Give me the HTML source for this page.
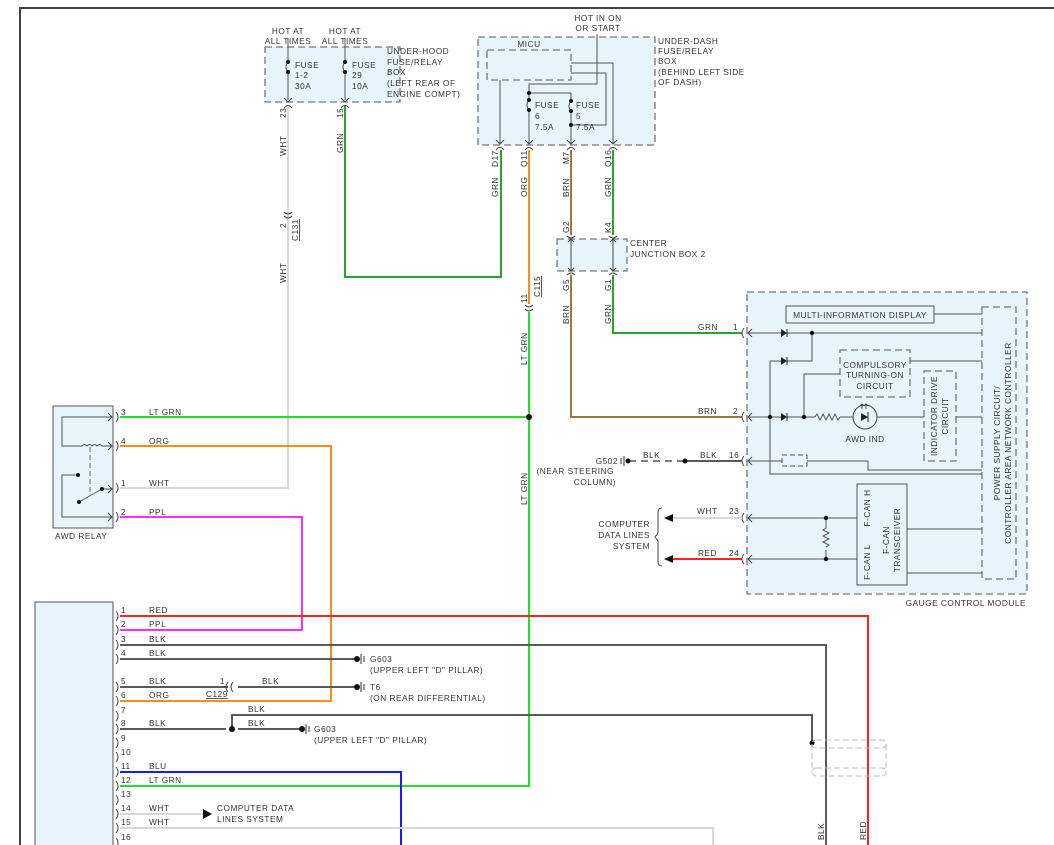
<!DOCTYPE html>
<html><head><meta charset="utf-8"><style>
html,body{margin:0;padding:0;background:#fff}
svg{display:block}
text{font-family:"Liberation Sans",sans-serif;font-size:8.3px;fill:#333;letter-spacing:0.5px}
.g{stroke:#2aa52a;stroke-width:2;fill:none}
.lg{stroke:#22e022;stroke-width:2;fill:none}
.o{stroke:#ff8c1a;stroke-width:2;fill:none}
.b{stroke:#9a7a3a;stroke-width:2;fill:none}
.w{stroke:#d8d8d8;stroke-width:2;fill:none}
.p{stroke:#ff2cff;stroke-width:2;fill:none}
.r{stroke:#ff2020;stroke-width:2;fill:none}
.u{stroke:#1a1aff;stroke-width:2;fill:none}
.k{stroke:#5a5a5a;stroke-width:2;fill:none}
.t{stroke:#555;stroke-width:1;fill:none}
.d{stroke:#777;stroke-width:1.3;stroke-dasharray:7,4;fill:#e8f4fb}
.c{stroke:#444;stroke-width:1;fill:none}
</style></head><body>
<svg width="1054" height="845" viewBox="0 0 1054 845" xmlns="http://www.w3.org/2000/svg">
<!-- border -->
<path d="M20,845 V8 H1054" stroke="#444" stroke-width="2" fill="none"/>

<!-- under-hood box -->
<rect x="265" y="47" width="135" height="55" class="d"/>
<text x="288" y="34" text-anchor="middle">HOT AT</text><text x="288" y="44" text-anchor="middle">ALL TIMES</text>
<text x="345" y="34" text-anchor="middle">HOT AT</text><text x="345" y="44" text-anchor="middle">ALL TIMES</text>
<path d="M288,38 V62 M288,72 V100 M345,38 V62 M345,72 V100" class="t"/>
<path d="M288,62 q-4,5 0,10 M345,62 q-4,5 0,10" class="t"/>
<circle cx="288" cy="62" r="2" fill="#111"/><circle cx="288" cy="72" r="2" fill="#111"/>
<circle cx="345" cy="62" r="2" fill="#111"/><circle cx="345" cy="72" r="2" fill="#111"/>
<text x="295" y="68">FUSE</text><text x="295" y="78">1-2</text><text x="295" y="89">30A</text>
<text x="352" y="68">FUSE</text><text x="352" y="78">29</text><text x="352" y="89">10A</text>
<text x="387" y="54">UNDER-HOOD</text><text x="387" y="65">FUSE/RELAY</text><text x="387" y="75">BOX</text><text x="387" y="86">(LEFT REAR OF</text><text x="387" y="97">ENGINE COMPT)</text>
<path d="M284,98 l4,4 l4,-4 M341,98 l4,4 l4,-4 M284,108 q4,-5 8,0 M341,108 q4,-5 8,0" class="c"/>

<!-- WHT wire -->
<path d="M288,106 V488 H120" class="w"/>
<text transform="translate(286,118) rotate(-90)">23</text>
<text transform="translate(286,156) rotate(-90)">WHT</text>
<path d="M284,212 q4,4 8,0 M284,216 q4,4 8,0" class="c"/>
<text transform="translate(286,228) rotate(-90)">2</text>
<text transform="translate(298,241) rotate(-90)" text-decoration="underline">C131</text>
<text transform="translate(286,283) rotate(-90)">WHT</text>
<!-- GRN wire from fuse 29 -->
<path d="M345,106 V277 H501 V150" class="g"/>
<text transform="translate(343,118) rotate(-90)">15</text>
<text transform="translate(343,153) rotate(-90)">GRN</text>

<!-- MICU box -->
<rect x="478" y="37" width="177" height="108" class="d"/>
<rect x="487" y="50" width="84" height="30" class="d"/>
<text x="529" y="47" text-anchor="middle">MICU</text>
<text x="598" y="21" text-anchor="middle">HOT IN ON</text><text x="598" y="31" text-anchor="middle">OR START</text>
<path d="M597,34 V84 H529 V100 M529,110 V144 M529,93 H571 V101 M571,111 V144 M571,125 H606 V73 H571 M571,63 H613 V144 M500,80 V144" class="t"/>
<path d="M529,100 q-4,5 0,10 M571,101 q-4,5 0,10" class="t"/>
<circle cx="529" cy="93" r="2" fill="#111"/><circle cx="529" cy="100" r="2" fill="#111"/><circle cx="529" cy="110" r="2" fill="#111"/>
<circle cx="571" cy="101" r="2" fill="#111"/><circle cx="571" cy="111" r="2" fill="#111"/><circle cx="571" cy="125" r="2" fill="#111"/>
<text x="535" y="108">FUSE</text><text x="535" y="119">6</text><text x="535" y="130">7.5A</text>
<text x="576" y="108">FUSE</text><text x="576" y="119">5</text><text x="576" y="130">7.5A</text>
<text x="658" y="44">UNDER-DASH</text><text x="658" y="54">FUSE/RELAY</text><text x="658" y="64">BOX</text><text x="658" y="75">(BEHIND LEFT SIDE</text><text x="658" y="85">OF DASH)</text>
<path d="M496,140 l4,4 l4,-4 M525,140 l4,4 l4,-4 M567,140 l4,4 l4,-4 M609,140 l4,4 l4,-4 M496,150 q4,-5 8,0 M525,150 q4,-5 8,0 M567,150 q4,-5 8,0 M609,150 q4,-5 8,0" class="c"/>
<text transform="translate(498,167) rotate(-90)">D17</text><text transform="translate(498,197) rotate(-90)">GRN</text>
<text transform="translate(527,167) rotate(-90)">Q11</text><text transform="translate(527,197) rotate(-90)">ORG</text>
<text transform="translate(569,164) rotate(-90)">M7</text><text transform="translate(569,197) rotate(-90)">BRN</text>
<text transform="translate(611,167) rotate(-90)">Q16</text><text transform="translate(611,197) rotate(-90)">GRN</text>

<!-- ORG / LT GRN -->
<path d="M529,150 V304" class="o"/>
<path d="M525,305 q4,4 8,0 M525,309 q4,4 8,0" class="c"/>
<text transform="translate(527,303) rotate(-90)">11</text>
<text transform="translate(540,297) rotate(-90)" text-decoration="underline">C115</text>
<path d="M529,312 V786 H120" class="lg"/>
<text transform="translate(527,365) rotate(-90)">LT GRN</text>
<text transform="translate(527,505) rotate(-90)">LT GRN</text>
<path d="M120,417 H529" class="lg"/>
<circle cx="529" cy="417" r="3" fill="#111"/>

<!-- center junction box -->
<rect x="557" y="239" width="70" height="32" class="d"/>
<path d="M571,150 V235 M571,275 V417 H742" class="b"/>
<path d="M613,150 V235 M613,275 V333 H742" class="g"/>
<path d="M571,239 V271 M613,239 V271 M568,242 l3,-3 l3,3 M568,268 l3,3 l3,-3 M610,242 l3,-3 l3,3 M610,268 l3,3 l3,-3" class="c"/>
<path d="M567,236 q4,4 8,0 M609,236 q4,4 8,0 M567,275 q4,-4 8,0 M609,275 q4,-4 8,0" class="c"/>
<text transform="translate(569,233) rotate(-90)">G2</text><text transform="translate(611,233) rotate(-90)">K4</text>
<text transform="translate(569,291) rotate(-90)">G5</text><text transform="translate(611,291) rotate(-90)">G1</text>
<text transform="translate(569,324) rotate(-90)">BRN</text><text transform="translate(611,324) rotate(-90)">GRN</text>
<text x="630" y="246">CENTER</text><text x="630" y="257">JUNCTION BOX 2</text>
<text x="698" y="330">GRN</text><text x="733" y="330">1</text>
<text x="698" y="414">BRN</text><text x="733" y="414">2</text>

<!-- gauge control module -->
<rect x="747" y="292" width="280" height="302" class="d"/>
<text x="1026" y="606" text-anchor="end">GAUGE CONTROL MODULE</text>
<rect x="786" y="306" width="148" height="17" fill="#e8f4fb" stroke="#555"/>
<text x="860" y="318" text-anchor="middle">MULTI-INFORMATION DISPLAY</text>
<rect x="982" y="307" width="34" height="272" class="d"/>
<text transform="translate(1000,443) rotate(-90)" text-anchor="middle">POWER SUPPLY CIRCUIT/</text>
<text transform="translate(1011,443) rotate(-90)" text-anchor="middle">CONTROLLER AREA NETWORK CONTROLLER</text>
<rect x="840" y="350" width="70" height="47" class="d"/>
<text x="875" y="368" text-anchor="middle">COMPULSORY</text><text x="875" y="378" text-anchor="middle">TURNING-ON</text><text x="875" y="389" text-anchor="middle">CIRCUIT</text>
<rect x="924" y="371" width="32" height="90" class="d"/>
<text transform="translate(937,416) rotate(-90)" text-anchor="middle">INDICATOR DRIVE</text>
<text transform="translate(948,416) rotate(-90)" text-anchor="middle">CIRCUIT</text>
<path d="M748,333 H982 M812,333 V361 H770 V474 H982 M934,314 H982 M910,361 H982 M804,417 V374 H840 M748,417 H815 M840,417 H853 M877,417 H924 M956,417 H982 M748,461 H782 M807,461 H868 V470 H982 M748,518 H857 M748,559 H857 M907,529 H982 M907,573 H982 M826,518 V528 M826,550 V559" class="t"/>
<path d="M815,417 l2,-3 l3,6 l3,-6 l3,6 l3,-6 l3,6 l3,-6 l3,6 l2,-3 M826,528 l-3,2 l6,3 l-6,3 l6,3 l-6,3 l6,3 l-3,2" class="t"/>
<path d="M781,329 l6,4 l-6,4z M781,357 l6,4 l-6,4z M781,413 l6,4 l-6,4z M861,413 l7,4 l-7,4z" fill="#222"/>
<path d="M787,329 v8 M787,357 v8 M787,413 v8 M868,412 v10" stroke="#222"/>
<path d="M862,404 v5 M866,404 v5 M860,406 l2,-2 l2,2 M864,406 l2,-2 l2,2" stroke="#222" stroke-width="0.8" fill="none"/>
<circle cx="865" cy="417" r="12" fill="none" stroke="#444"/>
<text x="865" y="442" text-anchor="middle">AWD IND</text>
<rect x="782" y="455" width="25" height="11" fill="none" stroke="#555" stroke-dasharray="5,3"/>
<circle cx="812" cy="333" r="2.2" fill="#111"/><circle cx="770" cy="417" r="2.2" fill="#111"/><circle cx="804" cy="417" r="2.2" fill="#111"/>
<circle cx="826" cy="518" r="2.2" fill="#111"/><circle cx="826" cy="559" r="2.2" fill="#111"/>
<rect x="857" y="484" width="50" height="101" fill="#e8f4fb" stroke="#555"/>
<text transform="translate(870,508) rotate(-90)" text-anchor="middle">F-CAN H</text>
<text transform="translate(870,562) rotate(-90)" text-anchor="middle">F-CAN L</text>
<text transform="translate(889,540) rotate(-90)" text-anchor="middle">F-CAN</text>
<text transform="translate(900,540) rotate(-90)" text-anchor="middle">TRANSCEIVER</text>
<!-- module pin connectors -->
<path d="M744,328 q-4,5 0,10 M744,412 q-4,5 0,10 M744,456 q-4,5 0,10 M744,513 q-4,5 0,10 M744,554 q-4,5 0,10 M752,329 l-4,4 l4,4 M752,413 l-4,4 l4,4 M752,457 l-4,4 l4,4 M752,514 l-4,4 l4,4 M752,555 l-4,4 l4,4" class="c"/>

<!-- G502 -->
<path d="M629,461 H685" stroke="#555" stroke-width="1.5" stroke-dasharray="7,5"/>
<path d="M685,461 H742" class="k" stroke-width="1.5"/>
<circle cx="685" cy="461" r="2.5" fill="#111"/><circle cx="628" cy="461" r="2.5" fill="#111"/>
<path d="M624,456 v10 M621,458 v6" stroke="#333"/>
<text x="643" y="458">BLK</text><text x="700" y="458">BLK</text><text x="729" y="458">16</text>
<text x="618" y="464" text-anchor="end">G502</text>
<text x="614" y="474" text-anchor="end">(NEAR STEERING</text>
<text x="616" y="485" text-anchor="end">COLUMN)</text>
<!-- computer data lines -->
<path d="M742,518 H672" class="w"/>
<path d="M742,559 H672" class="r"/>
<path d="M664,518 l9,-4 v8z M664,559 l9,-4 v8z" fill="#111"/>
<text x="697" y="514">WHT</text><text x="729" y="514">23</text>
<text x="698" y="556">RED</text><text x="729" y="556">24</text>
<path d="M662,508 q-4,0 -4,5 v20 l-3,4 l3,4 v20 q0,5 4,5" class="c"/>
<text x="650" y="527" text-anchor="end">COMPUTER</text><text x="650" y="538" text-anchor="end">DATA LINES</text><text x="650" y="549" text-anchor="end">SYSTEM</text>

<!-- AWD relay -->
<rect x="53" y="406" width="60" height="122" fill="#e8f4fb" stroke="#555"/>
<text x="55" y="539">AWD RELAY</text>
<path d="M112,417 H62 V446 H82 M102,446 H112 M112,489 H102 M112,517 H62 V475 H78" class="t"/>
<path d="M82,446 q2.5,-3 5,0 q2.5,-3 5,0 q2.5,-3 5,0 q2.5,-3 5,0" class="t"/>
<path d="M90,447 V492" stroke="#666" stroke-dasharray="5,3"/>
<path d="M79,502 L102,489" class="t"/>
<circle cx="78" cy="475" r="2" fill="#111"/><circle cx="79" cy="502" r="2" fill="#111"/><circle cx="102" cy="489" r="2" fill="#111"/>
<path d="M108,413 l4,4 l-4,4 M108,442 l4,4 l-4,4 M108,485 l4,4 l-4,4 M108,513 l4,4 l-4,4" class="c"/>
<path d="M116,412 q4,5 0,10 M116,441 q4,5 0,10 M116,483 q4,5 0,10 M116,512 q4,5 0,10" class="c"/>
<text x="121" y="415">3</text><text x="149" y="415">LT GRN</text>
<text x="121" y="444">4</text><text x="149" y="444">ORG</text>
<text x="121" y="486">1</text><text x="149" y="486">WHT</text>
<text x="121" y="515">2</text><text x="149" y="515">PPL</text>
<path d="M120,446 H331 V701 H120" class="o"/>
<path d="M120,517 H302 V630 H120" class="p"/>

<!-- bottom-left module -->
<rect x="35" y="602" width="78" height="250" fill="#e8f4fb" stroke="#555"/>
<g class="c">
<path d="M116,611 q4,5 0,10 M116,625 q4,5 0,10 M116,640 q4,5 0,10 M116,654 q4,5 0,10 M116,682 q4,5 0,10 M116,696 q4,5 0,10 M116,711 q4,5 0,10 M116,724 q4,5 0,10 M116,738 q4,5 0,10 M116,752 q4,5 0,10 M116,767 q4,5 0,10 M116,781 q4,5 0,10 M116,795 q4,5 0,10 M116,809 q4,5 0,10 M116,823 q4,5 0,10 M116,838 q4,5 0,10"/>
</g>
<text x="121" y="613">1</text><text x="149" y="613">RED</text>
<text x="121" y="627">2</text><text x="149" y="627">PPL</text>
<text x="121" y="642">3</text><text x="149" y="642">BLK</text>
<text x="121" y="656">4</text><text x="149" y="656">BLK</text>
<text x="121" y="684">5</text><text x="149" y="684">BLK</text>
<text x="121" y="698">6</text><text x="149" y="698">ORG</text>
<text x="121" y="713">7</text>
<text x="121" y="726">8</text><text x="149" y="726">BLK</text>
<text x="121" y="741">9</text>
<text x="121" y="755">10</text>
<text x="121" y="769">11</text><text x="149" y="769">BLU</text>
<text x="121" y="783">12</text><text x="149" y="783">LT GRN</text>
<text x="121" y="797">13</text>
<text x="121" y="811">14</text><text x="149" y="811">WHT</text>
<text x="121" y="825">15</text><text x="149" y="825">WHT</text>
<text x="121" y="840">16</text>
<path d="M120,616 H868 V845" class="r"/>
<path d="M120,645 H826 V845" class="k"/>
<path d="M120,659 H357" class="k"/>
<path d="M120,687 H228 M238,687 H357" class="k"/>
<path d="M228,682 q-4,5 0,10 M233,682 q-4,5 0,10" class="c"/>
<text x="225" y="684" text-anchor="end">1</text><text x="262" y="684">BLK</text>
<text x="206" y="697" text-decoration="underline">C129</text>
<path d="M120,729 H226 M238,729 H300" class="k"/>
<path d="M232,729 V715 H812 V743" class="k"/>
<circle cx="232" cy="729" r="3" fill="#111"/>
<circle cx="812" cy="743" r="2.5" fill="#111"/>
<text x="248" y="712">BLK</text><text x="248" y="726">BLK</text>
<circle cx="357" cy="659" r="3" fill="#111"/><circle cx="357" cy="687" r="3" fill="#111"/><circle cx="302" cy="729" r="3" fill="#111"/>
<path d="M361,654 v10 M364,656 v6 M361,682 v10 M364,684 v6 M306,724 v10 M309,726 v6" stroke="#333"/>
<text x="370" y="662">G603</text><text x="370" y="673">(UPPER LEFT "D" PILLAR)</text>
<text x="370" y="690">T6</text><text x="370" y="701">(ON REAR DIFFERENTIAL)</text>
<text x="314" y="732">G603</text><text x="314" y="743">(UPPER LEFT "D" PILLAR)</text>
<path d="M120,772 H401 V845" class="u"/>
<path d="M120,814 H203" class="w"/>
<path d="M212,814 l-9,-5 v10z" fill="#111"/>
<text x="217" y="811">COMPUTER DATA</text><text x="217" y="822">LINES SYSTEM</text>
<path d="M120,828 H713 V845" class="w"/>
<!-- shield -->
<rect x="812" y="740" width="74" height="8" rx="4" fill="none" stroke="#bbb" stroke-dasharray="6,3"/>
<rect x="812" y="768" width="74" height="8" rx="4" fill="none" stroke="#bbb" stroke-dasharray="6,3"/>
<path d="M812,744 V772 M886,744 V772" stroke="#bbb" stroke-dasharray="6,3"/>
<text transform="translate(824,840) rotate(-90)">BLK</text>
<text transform="translate(866,840) rotate(-90)">RED</text>
</svg>
</body></html>
